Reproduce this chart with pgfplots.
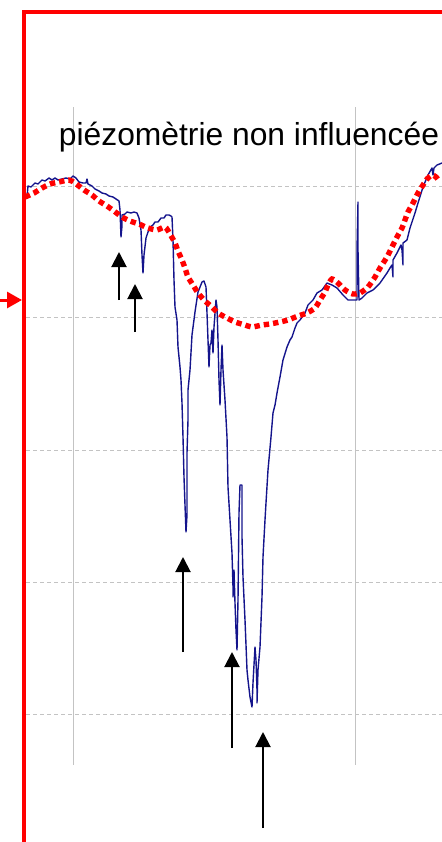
\documentclass[border=0pt]{standalone}
\usepackage{pgfplots}
\pgfplotsset{compat=1.18}
\usepackage{fontspec}
\setmainfont{Liberation Sans}
\usetikzlibrary{arrows.meta}
\definecolor{navyline}{RGB}{20,20,140}
\definecolor{gridgray}{RGB}{195,195,195}
\begin{document}
\begin{tikzpicture}
\begin{axis}[name=ax, width=221pt, height=421pt, scale only axis,
  xmin=0, xmax=442, ymin=0, ymax=842, y dir=reverse,
  axis line style={draw=none}, ticks=none, clip=true]
% grid
\addplot[gridgray, line width=0.5pt] coordinates {(73,107) (73,765)};
\addplot[gridgray, line width=0.5pt] coordinates {(355,107) (355,765)};
\addplot[gridgray, line width=0.5pt, dash pattern=on 2pt off 1.5pt] coordinates {(26,186) (442,186)};
\addplot[gridgray, line width=0.5pt, dash pattern=on 2pt off 1.5pt] coordinates {(26,317) (442,317)};
\addplot[gridgray, line width=0.5pt, dash pattern=on 2pt off 1.5pt] coordinates {(26,450) (442,450)};
\addplot[gridgray, line width=0.5pt, dash pattern=on 2pt off 1.5pt] coordinates {(26,582) (442,582)};
\addplot[gridgray, line width=0.5pt, dash pattern=on 2pt off 1.5pt] coordinates {(26,714) (442,714)};
% measured piezometry
\addplot[navyline, line width=0.7pt, line join=round] coordinates {
(27,197)(28,186)(31,187)(35,183)(38,184)(42,180)(45,181)(49,178)(52,180)(55,178)(58,180)(62,179)(66,178)(70,179)(73,176)(76,178)(79,182)(83,183)(86,183)(87,179)(88,184)(92,186)(95,189)(99,191)(102,193)(106,194)(109,196)(113,197)(116,199)(119,201)(120,210)(121,237)(122,226)(122,215)(125,214)(127,212)(131,213)(134,212)(137,213)(139,218)(141,230)(142,255)(143,273)(144,255)(146,238)(148,232)(150,227)(153,225)(155,222)(158,222)(161,218)(164,218)(166,215)(169,215)(171,216)(172,217)(173,240)(174,280)(175,307)(177,320)(178,347)(180,367)(181,380)(182,403)(183,437)(184,477)(185,505)(186,532)(187,515)(187,480)(187,453)(188,420)(188,390)(190,370)(192,335)(195,312)(198,292)(202,282)(204,281)(206,287)(207,313)(208,340)(209,367)(210,345)(211,343)(212,330)(213,353)(214,327)(216,300)(217,307)(218,340)(219,380)(220,405)(221,370)(222,345)(223,370)(225,400)(227,437)(228,487)(230,520)(232,553)(233,587)(233,597)(234,570)(235,603)(236,630)(237,650)(238,600)(239,513)(240,485)(242,485)(242,537)(243,577)(245,620)(247,670)(248,680)(250,697)(252,707)(253,683)(255,647)(256,660)(257,690)(257,703)(258,670)(260,647)(262,597)(263,557)(265,520)(266,503)(268,470)(271,437)(273,413)(275,405)(277,393)(280,377)(283,360)(287,347)(290,340)(292,337)(295,328)(297,323)(300,320)(305,313)(308,305)(313,300)(317,293)(322,290)(327,283)(332,285)(337,288)(343,295)(348,300)(353,300)(357,300)(357,250)(358,202)(358,250)(359,300)(362,298)(367,293)(373,290)(380,283)(387,273)(390,268)(392,265)(393,277)(393,260)(397,253)(401,245)(402,250)(403,265)(403,243)(407,240)(410,228)(415,213)(418,203)(423,187)(428,175)(432,168)(433,175)(434,168)(437,165)(442,163)
};
% non-influenced piezometry
\addplot[red, line width=2.7pt, dash pattern=on 2.7pt off 2pt, smooth, tension=0.4] coordinates {
(25,197)(34,193)(42,188)(50,184)(59,182)(69,180)(75,183)(84,190)(92,195)(99,201)(107,206)(114,211)(122,217)(130,221)(139,224)(148,228)(157,230)(165,227)(170,234)(175,243)(178,251)(182,260)(185,268)(188,277)(193,285)(198,293)(205,301)(212,307)(218,313)(227,318)(235,322)(245,325)(252,327)(262,325)(270,324)(280,322)(288,320)(298,316)(307,313)(315,308)(320,300)(325,292)(328,285)(332,279)(338,283)(345,290)(353,294)(360,293)(368,287)(375,277)(380,268)(387,257)(392,247)(397,237)(402,228)(405,220)(408,212)(413,203)(418,193)(423,185)(427,179)(432,175)(436,177)(440,182)
};
% label
\node[anchor=base, font=\fontsize{15.9}{19}\selectfont, inner sep=0pt] at (249,145) {piézomètrie non influencée};
% arrows
\draw[black, line width=1pt, -{Triangle[width=7.5pt,length=7.5pt]}] (119,300) -- (119,252);
\draw[black, line width=1pt, -{Triangle[width=7.5pt,length=7.5pt]}] (135,332) -- (135,284);
\draw[black, line width=1pt, -{Triangle[width=7.5pt,length=7.5pt]}] (183,652) -- (183,557);
\draw[black, line width=1pt, -{Triangle[width=7.5pt,length=7.5pt]}] (232,748) -- (232,652);
\draw[black, line width=1pt, -{Triangle[width=7.5pt,length=7.5pt]}] (263,828) -- (263,732);
% red frame and marker
\draw[red, line width=2pt] (24,842) -- (24,12) -- (442,12);
\draw[red, line width=1.5pt, -{Triangle[width=8pt,length=7.5pt]}] (0,300) -- (22,300);
\end{axis}
\pgfresetboundingbox
\path[use as bounding box] (ax.south west) rectangle (ax.north east);
\end{tikzpicture}
\end{document}
